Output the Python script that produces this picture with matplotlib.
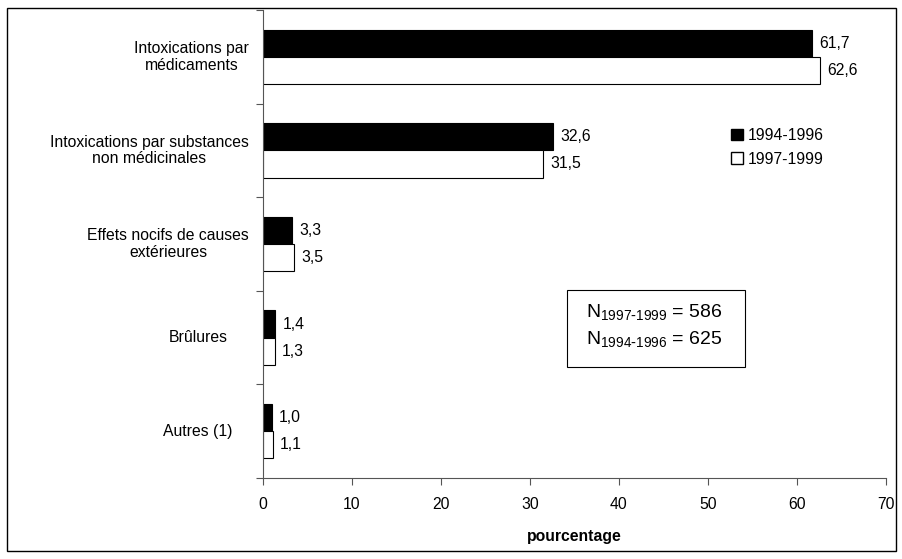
import matplotlib
matplotlib.use("Agg")
import matplotlib.pyplot as plt
from matplotlib.patches import Rectangle, Patch
from matplotlib.transforms import blended_transform_factory, IdentityTransform

plt.rcParams['font.family'] = ['Liberation Sans', 'DejaVu Sans']

categories = ["Intoxications par\nmédicaments",
              "Intoxications par substances\nnon médicinales",
              "Effets nocifs de causes\nextérieures",
              "Brûlures",
              "Autres (1)"]
v_1994 = [61.7, 32.6, 3.3, 1.4, 1.0]
v_1997 = [62.6, 31.5, 3.5, 1.3, 1.1]
series_names = ["1994-1996", "1997-1999"]
xticks = [0, 10, 20, 30, 40, 50, 60, 70]

W, H = 902, 559
FS = 11.3
fig = plt.figure(figsize=(W/100, H/100), dpi=100)
ax = fig.add_axes([263/W, 1-478/H, (886-263)/W, (478-10)/H])

bh = 0.29
n = len(categories)
centers = [i + 0.5 for i in range(n)]
y_black = [c - bh/2 for c in centers]
y_white = [c + bh/2 for c in centers]
ax.barh(y_black, v_1994, height=bh, color='black', edgecolor='black', linewidth=0.8)
ax.barh(y_white, v_1997, height=bh, color='white', edgecolor='black', linewidth=0.8)

fmt = lambda v: f"{v:.1f}".replace('.', ',')
for y, v in zip(y_black, v_1994):
    ax.text(v + 0.8, y, fmt(v), va='center', ha='left', fontsize=FS)
for y, v in zip(y_white, v_1997):
    ax.text(v + 0.8, y, fmt(v), va='center', ha='left', fontsize=FS)

ax.set_ylim(n, 0)
ax.set_xlim(0, 70)
ax.set_xticks(xticks)
ax.set_xticklabels([str(t) for t in xticks], fontsize=FS)
ax.set_yticks(range(n + 1))
ax.set_yticklabels([])
ax.tick_params(axis='y', which='major', length=5, direction='out', color='#555555')
ax.tick_params(axis='x', length=5, direction='out', color='#555555', pad=9)
ax.spines['top'].set_visible(False)
ax.spines['right'].set_visible(False)
ax.spines['left'].set_color('#555555')
ax.spines['bottom'].set_color('#555555')
ax.set_xlabel("pourcentage", fontsize=FS, fontweight='bold', labelpad=12)

# category labels: centred at x=198 px, shifted left if they overflow past 249 px
trans = blended_transform_factory(IdentityTransform(), ax.transData)
labels = []
for c, lab in zip(centers, categories):
    t = ax.text(198, c, lab, transform=trans, ha='center', va='center',
                multialignment='center', fontsize=FS, linespacing=1.15)
    labels.append(t)
fig.canvas.draw()
r = fig.canvas.get_renderer()
for t in labels:
    bb = t.get_window_extent(r)
    if bb.x1 > 249:
        x, y = t.get_position()
        t.set_position((x - (bb.x1 - 249), y))

handles = [Patch(facecolor='black', edgecolor='black'),
           Patch(facecolor='white', edgecolor='black')]
fig.legend(handles, series_names, loc='upper left', bbox_to_anchor=(731/W, 1-128/H),
           frameon=False, fontsize=FS, handlelength=0.75, handleheight=0.75,
           handletextpad=0.3, labelspacing=0.55, borderaxespad=0, borderpad=0)

# N box
fig.patches.append(Rectangle((567/W, 1-367/H), (745-567)/W, (367-290)/H,
                             transform=fig.transFigure, fill=False,
                             edgecolor='black', linewidth=0.8))
fig.text(586/W, 1-313/H, r"N$_{\mathregular{1997\text{-}1999}}$ = 586", fontsize=14, va='center')
fig.text(586/W, 1-340/H, r"N$_{\mathregular{1994\text{-}1996}}$ = 625", fontsize=14, va='center')

# figure frame
fig.patches.append(Rectangle((7/W, 1-551/H), (896-7)/W, (551-8)/H,
                             transform=fig.transFigure, fill=False,
                             edgecolor='black', linewidth=1.0))

fig.savefig("out.png", dpi=100)
